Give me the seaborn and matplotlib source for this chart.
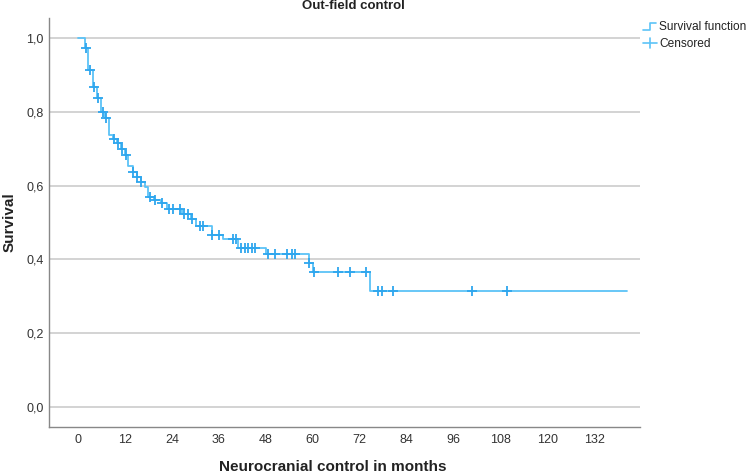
import numpy as np
import pandas as pd
import matplotlib
matplotlib.use("Agg")
import matplotlib.pyplot as plt
import seaborn as sns
from matplotlib.lines import Line2D

# ---- data ----
event_times = [0, 1.8, 2.6, 3.8, 4.9, 5.9, 6.9, 7.9, 9.0, 10.0, 11.0, 12.0, 12.8, 14.0,
               15.0, 16.0, 17.2, 17.9, 19.5, 21.3, 22.8, 26.6, 28.8, 30.3, 34.2, 37.0,
               41.0, 48.2, 59.0, 60.0, 74.6]
survival = [1.0, 0.973, 0.913, 0.867, 0.837, 0.80, 0.783, 0.737, 0.727, 0.716, 0.70, 0.683,
            0.652, 0.637, 0.623, 0.61, 0.597, 0.569, 0.562, 0.552, 0.537, 0.522, 0.509,
            0.49, 0.467, 0.456, 0.432, 0.415, 0.39, 0.366, 0.314]
end_time = 140.4
censored_times = [2.1, 3.0, 4.1, 5.1, 6.3, 7.3, 9.2, 10.2, 11.2, 12.3, 14.2, 15.2, 16.2,
                  18.3, 19.7, 21.6, 23.2, 24.2, 26.2, 27.2, 28.2, 29.2, 31.3, 32.0, 34.3,
                  36.0, 39.6, 40.4, 41.8, 42.7, 43.5, 44.4, 45.3, 48.6, 50.4, 53.5, 54.7,
                  55.5, 59.2, 60.3, 66.5, 69.6, 73.7, 76.7, 77.7, 80.6, 100.8, 109.7]
x_ticks = [0, 12, 24, 36, 48, 60, 72, 84, 96, 108, 120, 132]
y_ticks = [0.0, 0.2, 0.4, 0.6, 0.8, 1.0]
y_tick_labels = ["0,0", "0,2", "0,4", "0,6", "0,8", "1,0"]

title = "Out-field control"
xlabel = "Neurocranial control in months"
ylabel = "Survival"
legend_labels = ["Survival function", "Censored"]

line_color = "#5cc3f7"
mark_color = "#2ea6ee"

sns.set_theme(style="white")
plt.rcParams["font.family"] = ["Liberation Sans", "DejaVu Sans"]

fig = plt.figure(figsize=(7.49, 4.75), dpi=100)
ax = fig.add_axes([49 / 749, 1 - 427 / 475, (640 - 49) / 749, (427 - 18) / 475])

# step curve
curve = pd.DataFrame({"t": event_times + [end_time], "s": survival + [survival[-1]]})
sns.lineplot(data=curve, x="t", y="s", drawstyle="steps-post", color=line_color,
             lw=1.3, ax=ax, estimator=None, sort=False)

# censored marks at the curve level
et = np.array(event_times)
sv = np.array(survival)
cens_s = [sv[np.searchsorted(et, t, side="right") - 1] for t in censored_times]
cens = pd.DataFrame({"t": censored_times, "s": cens_s})
sns.scatterplot(data=cens, x="t", y="s", marker="+", s=45, color=mark_color,
                linewidth=1.3, ax=ax, zorder=5)

ax.set_xlim(-7.4, 143.7)
ax.set_ylim(-0.054, 1.054)
ax.set_xticks(x_ticks)
ax.set_xticklabels([str(v) for v in x_ticks], fontsize=9, color="#333333")
ax.set_yticks(y_ticks)
ax.set_yticklabels(y_tick_labels, fontsize=9, color="#333333")
ax.tick_params(axis="both", length=0)
ax.tick_params(axis="x", pad=5)
ax.tick_params(axis="y", pad=4)
for yv in y_ticks:
    ax.axhline(yv, color="#cccccc", lw=1.2, zorder=0)
for side in ["top", "right"]:
    ax.spines[side].set_visible(False)
for side in ["left", "bottom"]:
    ax.spines[side].set_color("#888888")
    ax.spines[side].set_linewidth(1.0)
ax.set_xlabel("")
ax.set_ylabel("")

fig.text(333 / 749, 1 - 467 / 475, xlabel, ha="center", va="center",
         fontsize=11, fontweight="bold", color="#222222")
fig.text(10 / 749, 1 - 222 / 475, ylabel, ha="center", va="center", rotation=90,
         fontsize=11, fontweight="bold", color="#222222")
fig.text(353 / 749, 1 - 6 / 475, title, ha="center", va="center",
         fontsize=9.5, fontweight="bold", color="#222222")

# legend (drawn at figure level)
W, H = 749, 475
def fx(x):
    return x / W
def fy(y):
    return 1 - y / H
fig.add_artist(Line2D([fx(643), fx(650), fx(650), fx(656)],
                      [fy(30), fy(30), fy(23), fy(23)], color=line_color, lw=1.2))
fig.add_artist(Line2D([fx(643), fx(657)], [fy(43), fy(43)], color=line_color, lw=1.2))
fig.add_artist(Line2D([fx(650), fx(650)], [fy(38), fy(48)], color=line_color, lw=1.2))
fig.text(fx(659), fy(27), legend_labels[0], ha="left", va="center", fontsize=8.6, color="#222222")
fig.text(fx(659), fy(44), legend_labels[1], ha="left", va="center", fontsize=8.6, color="#222222")

fig.savefig("out.png", dpi=100)
